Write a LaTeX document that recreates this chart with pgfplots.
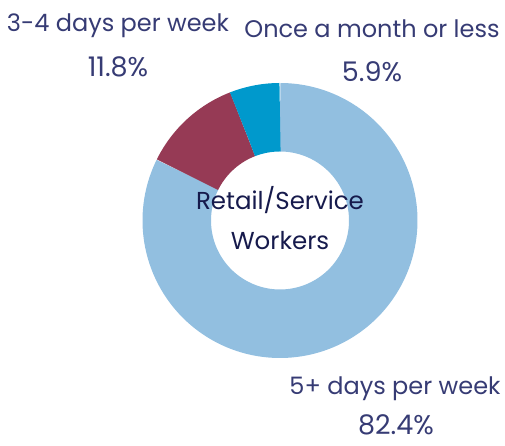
\documentclass[border=0pt]{standalone}
\usepackage{fontspec}
\setmainfont{Poppins}
\usepackage{pgfplots}
\pgfplotsset{compat=1.18}
\definecolor{cFive}{HTML}{92BFE0}
\definecolor{cThree}{HTML}{963A55}
\definecolor{cOnce}{HTML}{0099CC}
\definecolor{lbl}{HTML}{363B74}
\definecolor{ctr}{HTML}{161A4C}
% data (percent)
\def\vA{82.4}\def\vB{11.8}\def\vC{5.9}
\pgfmathsetmacro\tot{\vA+\vB+\vC}
\pgfmathsetmacro\eA{90-\vA/\tot*360}
\pgfmathsetmacro\eB{\eA-\vB/\tot*360}
\pgfmathsetmacro\eC{\eB-\vC/\tot*360}
\def\cx{280}\def\cy{225.5}\def\rmid{103.25}
\begin{document}
\begin{tikzpicture}
\begin{axis}[
  scale only axis, width=505pt, height=446pt,
  xmin=0, xmax=505, ymin=0, ymax=446,
  hide axis, clip=false,
  every axis plot/.append style={line cap=butt, line width=68.5pt, samples=200, no markers, variable=\t},
]
\addplot[cFive, domain=\eA:90] ({\cx+\rmid*cos(\t)},{\cy+\rmid*sin(\t)});
\addplot[cThree, domain=\eB:\eA] ({\cx+\rmid*cos(\t)},{\cy+\rmid*sin(\t)});
\addplot[cOnce, domain=\eC:\eB] ({\cx+\rmid*cos(\t)},{\cy+\rmid*sin(\t)});
\node[font=\fontsize{24.5}{24.5}\selectfont, text=ctr, anchor=base] at (axis cs:280,236) {Retail/Service};
\node[font=\fontsize{24.5}{24.5}\selectfont, text=ctr, anchor=base] at (axis cs:280,196) {Workers};
\node[font=\fontsize{24}{24}\selectfont, text=lbl, anchor=base] at (axis cs:118,414) {3-4 days per week};
\node[font=\fontsize{27}{27}\selectfont, text=lbl, anchor=base] at (axis cs:118,369) {11.8\%};
\node[font=\fontsize{24}{24}\selectfont, text=lbl, anchor=base] at (axis cs:372,408) {Once a month or less};
\node[font=\fontsize{27}{27}\selectfont, text=lbl, anchor=base] at (axis cs:372,364) {5.9\%};
\node[font=\fontsize{24}{24}\selectfont, text=lbl, anchor=base] at (axis cs:395,51) {5+ days per week};
\node[font=\fontsize{27}{27}\selectfont, text=lbl, anchor=base] at (axis cs:396,11) {82.4\%};
\end{axis}
\pgfresetboundingbox
\path (0,0) rectangle (505pt,446pt);
\end{tikzpicture}
\end{document}
